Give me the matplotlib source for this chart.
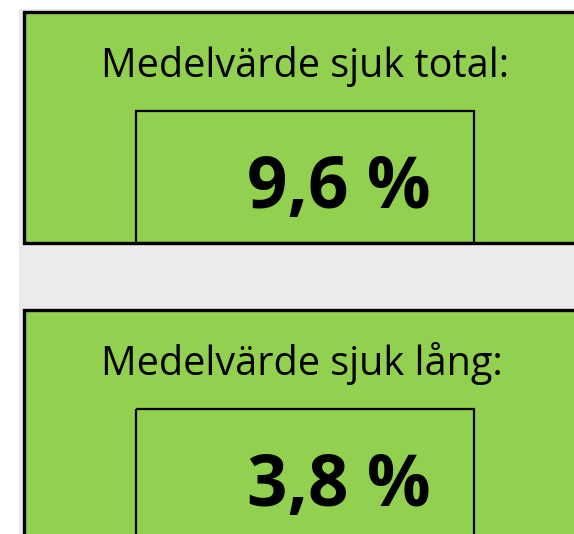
"""KPI panel: average sick leave, total and long-term."""

import matplotlib.pyplot as plt
from matplotlib.patches import Rectangle

labels = ["Medelvärde sjuk total:", "Medelvärde sjuk lång:"]
values = [9.6, 3.8]

GREEN = "#92d050"
GRAY = "#ebebeb"
WIDTH, HEIGHT = 574, 534

plt.rcParams["font.family"] = ["Open Sans", "DejaVu Sans"]

fig = plt.figure(figsize=(WIDTH / 100, HEIGHT / 100), dpi=100)
ax = fig.add_axes([0, 0, 1, 1])
ax.set_xlim(0, WIDTH)
ax.set_ylim(HEIGHT, 0)
ax.axis("off")

# sheet background to the right of the white margin
ax.add_patch(Rectangle((19, 9), WIDTH, HEIGHT, facecolor=GRAY, edgecolor="none"))

box_tops = [12, 310]
for top, label, value in zip(box_tops, labels, values):
    ax.add_patch(
        Rectangle((23.5, top), 600, 231, facecolor=GREEN,
                  edgecolor="black", linewidth=2.4)
    )
    ax.add_patch(
        Rectangle((136, top + 99), 337.5, 132, facecolor="none",
                  edgecolor="black", linewidth=1.6)
    )
    ax.text(101, top + 65, label, fontsize=28.5, ha="left",
            va="baseline", color="black")
    number = f"{value:.1f}".replace(".", ",") + " %"
    ax.text(247, top + 196, number, fontsize=51, fontweight="bold",
            ha="left", va="baseline", color="black")

fig.savefig("out.png", dpi=100)
